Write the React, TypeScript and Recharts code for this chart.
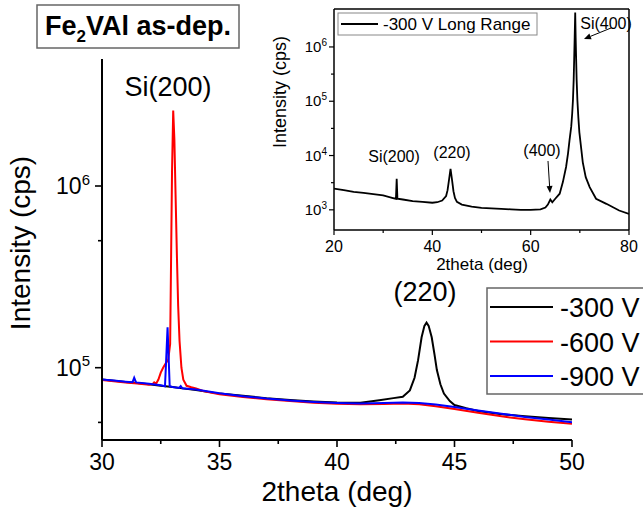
import { LineChart, Line, XAxis, YAxis } from 'recharts';

// -------- data --------
// main panel: 2theta (deg) vs intensity (cps)
const V300: [number, number][] = [
  [30, 86000], [30.5, 84800], [31, 83500], [31.5, 82300], [32, 81000], [32.5, 79600],
  [33, 78200], [33.5, 76700], [34, 75300], [34.5, 73600], [35, 72000], [36, 70000],
  [37, 68000], [38, 66500], [39, 65200], [40, 64300], [41, 64200], [41.8, 66200],
  [42.4, 68000], [42.8, 69200], [43.1, 75000], [43.3, 88000], [43.45, 110000],
  [43.6, 147000], [43.72, 170000], [43.81, 177000], [43.9, 170000], [44.03, 147000],
  [44.15, 118000], [44.25, 97000], [44.4, 81000], [44.55, 72000], [44.8, 65500],
  [45, 62300], [45.5, 59800], [46, 57800], [47, 55500], [48, 54000], [49, 52800], [50, 51800],
];

const V600: [number, number][] = [
  [30, 85500], [30.5, 84300], [31, 83000], [31.5, 81800], [32, 80600], [32.15, 81200],
  [32.22, 83000], [32.3, 81500], [32.4, 86000], [32.5, 94000], [32.6, 100000],
  [32.7, 105000], [32.82, 111000], [32.9, 135000], [32.94, 400000], [32.98, 1200000],
  [33.03, 2600000], [33.08, 1800000], [33.13, 900000], [33.19, 400000], [33.24, 220000],
  [33.3, 140000], [33.38, 100000], [33.46, 86000], [33.6, 79500], [33.8, 78000],
  [34, 76800], [34.3, 74500], [35, 71500], [36, 69000], [37, 67000], [38, 65500],
  [39, 64200], [40, 63300], [41, 62900], [42, 63100], [42.8, 63500], [43.5, 63000],
  [44.2, 61400], [45, 59300], [46, 56500], [47, 54000], [48, 52000], [49, 50400], [50, 49200],
];

const V900: [number, number][] = [
  [30, 86000], [30.5, 84900], [31, 83800], [31.3, 83200], [31.37, 88000], [31.45, 83000],
  [32, 81600], [32.5, 80000], [32.68, 79000], [32.73, 110000], [32.79, 167000],
  [32.84, 110000], [32.88, 79000], [33, 78300], [33.28, 77300], [33.35, 79200],
  [33.42, 77000], [34, 75800], [35, 72300], [36, 69700], [37, 67600], [38, 66000],
  [39, 64800], [40, 64000], [41, 63600], [42, 63900], [42.8, 64300], [43.5, 63900],
  [44.2, 62700], [45, 60800], [46, 58200], [47, 55800], [48, 53600], [49, 51800], [50, 50100],
];

// inset: -300 V long range scan
const LONG_RANGE: [number, number][] = [
  [20, 2450], [22, 2300], [24, 2150], [26, 2050], [28, 1950], [30, 1840], [32, 1650],
  [32.6, 1600], [32.75, 3750], [32.9, 1600], [34, 1550], [36, 1450], [38, 1400],
  [40, 1350], [41, 1380], [42, 1480], [42.8, 1800], [43.1, 2300], [43.4, 3600],
  [43.7, 5700], [44.0, 3600], [44.3, 2200], [44.6, 1650], [45, 1400], [46, 1250],
  [48, 1150], [50, 1090], [52, 1060], [54, 1040], [56, 1020], [58, 1000], [60, 1000],
  [62, 1020], [63, 1100], [63.5, 1250], [64, 1550], [64.4, 1380], [65, 1600],
  [65.9, 1980], [66.55, 3240], [67.2, 6150], [67.6, 11000], [67.9, 19000],
  [68.25, 34000], [68.45, 60000], [68.6, 105000], [68.75, 250000], [68.85, 600000],
  [68.95, 1500000], [69.06, 4300000], [69.15, 1500000], [69.25, 600000],
  [69.35, 250000], [69.5, 105000], [69.7, 50000], [69.9, 27000], [70.3, 13000],
  [70.6, 7500], [71.2, 4000], [72, 2620], [73.3, 1600], [75.4, 1290], [78, 970], [80, 843],
];

const MAIN_X_TICKS = [30, 32.5, 35, 37.5, 40, 42.5, 45, 47.5, 50];
const MAIN_Y_TICKS = [5e4, 1e5, 5e5, 1e6];
const INSET_X_TICKS = [20, 30, 40, 50, 60, 70, 80];
const INSET_Y_TICKS = [1e3, 3162, 1e4, 31623, 1e5, 316228, 1e6];

const SERIES = [
  { name: '-300 V', color: '#000000', points: V300 },
  { name: '-600 V', color: '#ff0000', points: V600 },
  { name: '-900 V', color: '#0000ff', points: V900 },
];

const FONT = '"Liberation Sans", Arial, Helvetica, sans-serif';

const toRows = (pts: [number, number][]) => pts.map(([x, y]) => ({ x, y }));

const isPow10 = (v: number) => Math.abs(Math.log10(v) - Math.round(Math.log10(v))) < 1e-6;

function PowerLabel({ x, y, v, size, sup }: { x: number; y: number; v: number; size: number; sup: number }) {
  return (
    <text x={x} y={y} textAnchor="end" fontSize={size} fontFamily={FONT} fill="#000">
      10
      <tspan dy={-size * 0.4} fontSize={sup}>
        {Math.round(Math.log10(v))}
      </tspan>
    </text>
  );
}

const mainYTick = (props: any) => {
  const { x, y, payload } = props;
  const major = isPow10(payload.value);
  return (
    <g>
      <line x1={x - (major ? 7 : 4)} x2={x} y1={y} y2={y} stroke="#000" strokeWidth={1.6} />
      {major && <PowerLabel x={x - 12} y={y + 8} v={payload.value} size={23} sup={15} />}
    </g>
  );
};

const mainXTick = (props: any) => {
  const { x, y, payload } = props;
  const major = payload.value % 5 === 0;
  return (
    <g>
      <line x1={x} x2={x} y1={y} y2={y + (major ? 7 : 4)} stroke="#000" strokeWidth={1.6} />
      {major && (
        <text x={x} y={y + 30} textAnchor="middle" fontSize={23} fontFamily={FONT} fill="#000">
          {payload.value}
        </text>
      )}
    </g>
  );
};

const insetYTick = (props: any) => {
  const { x, y, payload } = props;
  const major = isPow10(payload.value);
  return (
    <g>
      <line x1={x - (major ? 5 : 3)} x2={x} y1={y} y2={y} stroke="#000" strokeWidth={1.2} />
      {major && <PowerLabel x={x - 7} y={y + 5} v={payload.value} size={15} sup={10} />}
    </g>
  );
};

const insetXTick = (props: any) => {
  const { x, y, payload } = props;
  const major = payload.value % 20 === 0;
  return (
    <g>
      <line x1={x} x2={x} y1={y} y2={y + (major ? 5 : 3)} stroke="#000" strokeWidth={1.2} />
      {major && (
        <text x={x} y={y + 22} textAnchor="middle" fontSize={16} fontFamily={FONT} fill="#000">
          {payload.value}
        </text>
      )}
    </g>
  );
};

function Arrow({ x1, y1, x2, y2 }: { x1: number; y1: number; x2: number; y2: number }) {
  const a = Math.atan2(y2 - y1, x2 - x1);
  const L = 7;
  const W = 3;
  const bx = x2 - L * Math.cos(a);
  const by = y2 - L * Math.sin(a);
  const px = -Math.sin(a) * W;
  const py = Math.cos(a) * W;
  return (
    <g>
      <line x1={x1} y1={y1} x2={bx} y2={by} stroke="#000" strokeWidth={1} />
      <polygon points={`${x2},${y2} ${bx + px},${by + py} ${bx - px},${by - py}`} fill="#000" />
    </g>
  );
}

export default function App() {
  return (
    <div style={{ position: 'absolute', left: 0, top: 0, width: 643, height: 510, background: '#fff', overflow: 'hidden' }}>
      {/* main panel */}
      <div style={{ position: 'absolute', left: 0, top: 0 }}>
        <LineChart width={643} height={510} margin={{ top: 59, right: 71, bottom: 69, left: 101 }}>
          <XAxis
            dataKey="x"
            type="number"
            domain={[30, 50]}
            ticks={MAIN_X_TICKS}
            interval={0}
            allowDataOverflow
            height={1}
            tickSize={0}
            tickMargin={0}
            tickLine={false}
            axisLine={{ stroke: '#000', strokeWidth: 2 }}
            tick={mainXTick}
          />
          <YAxis
            type="number"
            scale="log"
            domain={[4e4, 5e6]}
            ticks={MAIN_Y_TICKS}
            interval={0}
            allowDataOverflow
            width={1}
            tickSize={0}
            tickMargin={0}
            tickLine={false}
            axisLine={{ stroke: '#000', strokeWidth: 2 }}
            tick={mainYTick}
          />
          {SERIES.map((s) => (
            <Line
              key={s.name}
              name={s.name}
              data={toRows(s.points)}
              dataKey="y"
              type="linear"
              stroke={s.color}
              strokeWidth={2}
              dot={false}
              isAnimationActive={false}
            />
          ))}
        </LineChart>
      </div>

      {/* inset */}
      <div style={{ position: 'absolute', left: 260, top: 0 }}>
        <LineChart width={383} height={290} margin={{ top: 9, right: 14, bottom: 59, left: 73 }}>
          <XAxis
            dataKey="x"
            type="number"
            domain={[20, 80]}
            ticks={INSET_X_TICKS}
            interval={0}
            allowDataOverflow
            height={1}
            tickSize={0}
            tickMargin={0}
            tickLine={false}
            axisLine={{ stroke: '#000', strokeWidth: 1.5 }}
            tick={insetXTick}
          />
          <YAxis
            type="number"
            scale="log"
            domain={[425, 5e6]}
            ticks={INSET_Y_TICKS}
            interval={0}
            allowDataOverflow
            width={1}
            tickSize={0}
            tickMargin={0}
            tickLine={false}
            axisLine={{ stroke: '#000', strokeWidth: 1.5 }}
            tick={insetYTick}
          />
          <Line
            name="-300 V Long Range"
            data={toRows(LONG_RANGE)}
            dataKey="y"
            type="linear"
            stroke="#000"
            strokeWidth={1.8}
            dot={false}
            isAnimationActive={false}
          />
        </LineChart>
      </div>

      {/* titles, annotations, legends */}
      <svg
        width={643}
        height={510}
        style={{ position: 'absolute', left: 0, top: 0, pointerEvents: 'none' }}
        fontFamily={FONT}
      >
        {/* inset frame (top / right) */}
        <line x1={334} y1={9} x2={629} y2={9} stroke="#000" strokeWidth={1.5} />
        <line x1={629} y1={9} x2={629} y2={230} stroke="#000" strokeWidth={1.5} />

        <rect x={37} y={5} width={202} height={43} fill="#fff" stroke="#666" strokeWidth={1.5} />
        <text x={138} y={35} textAnchor="middle" fontSize={27} fontWeight="bold" fill="#000">
          Fe<tspan dy={7} fontSize={17}>2</tspan>
          <tspan dy={-7}>VAl as-dep.</tspan>
        </text>

        <text x={168} y={96} textAnchor="middle" fontSize={27} fill="#000">Si(200)</text>
        <text x={425} y={301} textAnchor="middle" fontSize={27} fill="#000">(220)</text>

        <text x={30} y={243} textAnchor="middle" fontSize={28} fill="#000" transform="rotate(-90 30 243)">
          Intensity (cps)
        </text>
        <text x={337} y={501} textAnchor="middle" fontSize={28} fill="#000">2theta (deg)</text>

        {/* main legend */}
        <rect x={487} y={288} width={170} height={106} fill="#fff" stroke="#666" strokeWidth={1.5} />
        {SERIES.map((s, i) => (
          <g key={s.name}>
            <line x1={490} x2={553} y1={307 + i * 34.5} y2={307 + i * 34.5} stroke={s.color} strokeWidth={2} />
            <text x={560} y={317 + i * 34.5} fontSize={27} fill="#000">{s.name}</text>
          </g>
        ))}

        {/* inset labels */}
        <text x={286} y={92} textAnchor="middle" fontSize={18} fill="#000" transform="rotate(-90 286 92)">
          Intensity (cps)
        </text>
        <text x={482} y={270} textAnchor="middle" fontSize={17} fill="#000">2theta (deg)</text>

        <rect x={338} y={13} width={199} height={22} fill="#fff" stroke="#888" strokeWidth={1} />
        <line x1={341} x2={378} y1={24} y2={24} stroke="#000" strokeWidth={1.8} />
        <text x={383} y={30} fontSize={17} fill="#000">-300 V Long Range</text>

        <text x={394} y={162} textAnchor="middle" fontSize={16} fill="#000">Si(200)</text>
        <text x={452} y={158} textAnchor="middle" fontSize={16} fill="#000">(220)</text>
        <text x={542} y={156} textAnchor="middle" fontSize={16} fill="#000">(400)</text>
        <text x={606} y={29} textAnchor="middle" fontSize={16} fill="#000">Si(400)</text>
        <Arrow x1={548} y1={161} x2={550} y2={193} />
        <Arrow x1={611} y1={28} x2={584} y2={39} />
      </svg>
    </div>
  );
}
